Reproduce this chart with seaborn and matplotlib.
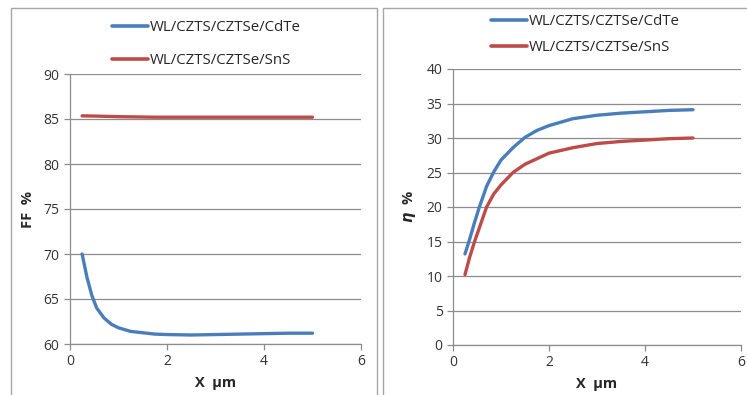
import numpy as np
import pandas as pd
import matplotlib
matplotlib.use("Agg")
import matplotlib.pyplot as plt
import matplotlib.patches as patches
from matplotlib.lines import Line2D
import seaborn as sns

# ---- data ----
x_um = [0.25, 0.35, 0.45, 0.55, 0.7, 0.85, 1.0, 1.25, 1.5, 1.75, 2.0, 2.5, 3.0, 3.5, 4.0, 4.5, 5.0]
ff_cdte = [70.0, 67.4, 65.4, 64.0, 62.9, 62.2, 61.8, 61.4, 61.25, 61.1, 61.05, 61.0, 61.05, 61.1, 61.15, 61.2, 61.2]
ff_sns = [85.35, 85.34, 85.33, 85.32, 85.3, 85.28, 85.26, 85.24, 85.22, 85.2, 85.2, 85.2, 85.2, 85.2, 85.2, 85.2, 85.2]
eta_cdte = [13.2, 15.4, 17.8, 20.0, 23.0, 25.1, 26.8, 28.6, 30.1, 31.1, 31.8, 32.8, 33.3, 33.6, 33.8, 34.0, 34.1]
eta_sns = [10.2, 12.8, 15.0, 17.0, 20.0, 21.9, 23.2, 25.0, 26.2, 27.0, 27.8, 28.6, 29.2, 29.5, 29.7, 29.9, 30.0]
series = ["WL/CZTS/CZTSe/CdTe", "WL/CZTS/CZTSe/SnS"]
x_ticks = [0, 2, 4, 6]
ff_ticks = [60, 65, 70, 75, 80, 85, 90]
eta_ticks = [0, 5, 10, 15, 20, 25, 30, 35, 40]

colors = {series[0]: "#4A7EBB", series[1]: "#BE4B48"}

n = len(x_um)
df_ff = pd.DataFrame({"x": x_um * 2, "val": ff_cdte + ff_sns,
                      "s": [series[0]] * n + [series[1]] * n})
df_eta = pd.DataFrame({"x": x_um * 2, "val": eta_cdte + eta_sns,
                       "s": [series[0]] * n + [series[1]] * n})

sns.set_style("white")
plt.rcParams["font.family"] = ["Open Sans", "DejaVu Sans"]

W, H = 747, 395
fig = plt.figure(figsize=(W / 100, H / 100), dpi=100)

def fx(px):
    return px / W

def fy(py):
    return 1 - py / H

# panel frames
for (x0, x1) in [(11, 377), (383, 760)]:
    fig.patches.append(patches.Rectangle((fx(x0), fy(400)), fx(x1 - x0), (400 - 8) / H,
                                         transform=fig.transFigure, fill=False,
                                         edgecolor="#A6A6A6", linewidth=1.0))

ax1 = fig.add_axes([fx(70), fy(344), fx(361 - 70), (344 - 74) / H])
ax2 = fig.add_axes([fx(453), fy(345), fx(741 - 453), (345 - 69) / H])

def style(ax, yt, ylabel):
    ax.set_xlim(0, 6)
    ax.set_ylim(yt[0], yt[-1])
    ax.set_xticks(x_ticks)
    ax.set_yticks(yt)
    ax.grid(axis="y", color="#8C8C8C", linewidth=0.9)
    ax.grid(axis="x", visible=False)
    for s in ["top", "right"]:
        ax.spines[s].set_visible(False)
    for s in ["left", "bottom"]:
        ax.spines[s].set_color("#8C8C8C")
        ax.spines[s].set_linewidth(0.9)
    ax.tick_params(axis="both", direction="out", length=4, width=0.9, color="#8C8C8C",
                   labelsize=10, labelcolor="#333333", bottom=True, left=True)
    ax.set_xlabel("X  µm", fontsize=10.5, fontweight="bold", labelpad=5)
    ax.set_ylabel(ylabel, fontsize=10.5, fontweight="bold", labelpad=6)
    ax.set_axisbelow(True)
    ax.set_facecolor("none")

sns.lineplot(data=df_ff, x="x", y="val", hue="s", palette=colors, ax=ax1,
             linewidth=2.4, legend=False)
sns.lineplot(data=df_eta, x="x", y="val", hue="s", palette=colors, ax=ax2,
             linewidth=2.4, legend=False)
for ax in (ax1, ax2):
    for ln in ax.get_lines():
        ln.set_solid_joinstyle("round")
        ln.set_solid_capstyle("round")
style(ax1, ff_ticks, "FF  %")
style(ax2, eta_ticks, r"$\boldsymbol{\eta}$  %")

handles = [Line2D([], [], color=colors[s], linewidth=2.6) for s in series]

fig.legend(handles, series, loc="upper left", bbox_to_anchor=(fx(112), fy(20)),
           frameon=False, fontsize=10.8, handlelength=2.4, handletextpad=0.1,
           labelspacing=1.2, borderaxespad=0, borderpad=0)
fig.legend(handles, series, loc="upper left", bbox_to_anchor=(fx(491), fy(14)),
           frameon=False, fontsize=10.8, handlelength=2.4, handletextpad=0.1,
           labelspacing=0.75, borderaxespad=0, borderpad=0)

fig.savefig("out.png", dpi=100, facecolor="white")
